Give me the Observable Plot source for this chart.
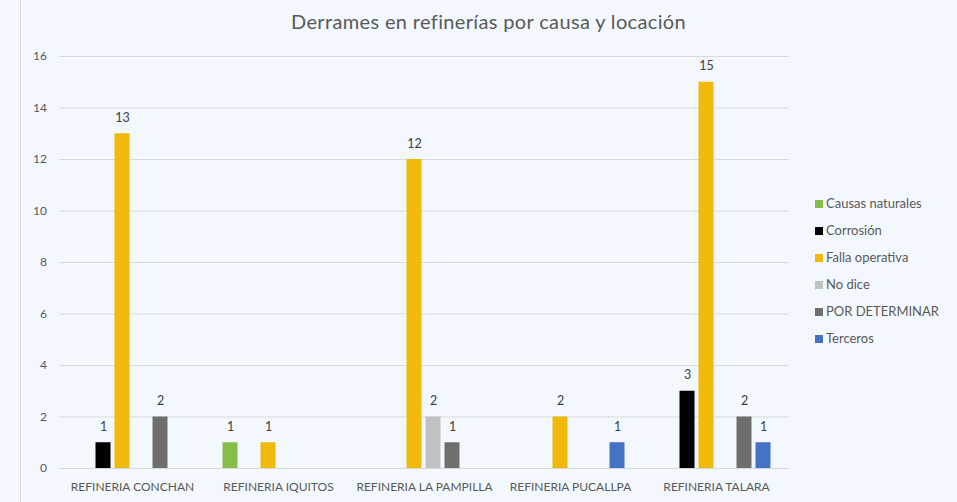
<!DOCTYPE html>
<html>
<head>
<meta charset="utf-8">
<script src="https://cdn.jsdelivr.net/npm/d3@7"></script>
<script src="https://cdn.jsdelivr.net/npm/@observablehq/plot@0.6"></script>
<style>
  html, body { margin: 0; padding: 0; background: #F3F8FE; }
  #wrap { position: relative; width: 957px; height: 502px; overflow: hidden; font-family: Lato, "Open Sans", sans-serif; color: #595959; }
  #vline { position: absolute; left: 20px; top: 0; width: 1px; height: 502px; background: #D9D9D9; }
  #title { position: absolute; left: 10px; top: 9px; width: 957px; text-align: center; font-size: 20px; letter-spacing: 0.35px; color: #595959; }
  #chart { position: absolute; left: 0; top: 0; }
  #legend { position: absolute; left: 815px; top: 194px; font-size: 13px; }
  .item { height: 27.1px; display: flex; align-items: flex-start; line-height: 19px; }
  .sw { width: 8px; height: 8px; margin-top: 5.5px; margin-right: 3px; flex: none; }
</style>
</head>
<body>
<div id="wrap">
  <div id="vline"></div>
  <div id="chart"></div>
  <div id="title">Derrames en refinerías por causa y locación</div>
  <div id="legend"></div>
</div>
<script>
const categories = ["REFINERIA CONCHAN", "REFINERIA IQUITOS", "REFINERIA LA PAMPILLA", "REFINERIA PUCALLPA", "REFINERIA TALARA"];
const series = ["Causas naturales", "Corrosión", "Falla operativa", "No dice", "POR DETERMINAR", "Terceros"];
const colors = ["#86BC4A", "#000000", "#F0B90C", "#BFC1C3", "#6E6E6E", "#4472C4"];
// values per category, in series order (null = no bar)
const conchan   = [null, 1, 13, null, 2, null];
const iquitos   = [1, null, 1, null, null, null];
const pampilla  = [null, null, 12, 2, 1, null];
const pucallpa  = [null, null, 2, null, null, 1];
const talara    = [null, 3, 15, null, 2, 1];
const yTicks = [0, 2, 4, 6, 8, 10, 12, 14, 16];

const rows = [conchan, iquitos, pampilla, pucallpa, talara];
const data = [];
categories.forEach((c, i) => rows[i].forEach((v, j) => {
  if (v != null) data.push({cat: c, serie: series[j], value: v});
}));

const chart = Plot.plot({
  width: 957,
  height: 502,
  marginTop: 56,
  marginBottom: 34,
  marginLeft: 57.5,
  marginRight: 166,
  style: {background: "transparent", fontFamily: "Lato, 'Open Sans', sans-serif", fontSize: "12px", color: "#595959"},
  fx: {domain: categories, paddingInner: 0.2046, paddingOuter: 0.1023, label: null},
  x: {domain: series, paddingInner: 0.19, paddingOuter: 0.095, axis: null},
  y: {domain: [0, 16]},
  color: {domain: series, range: colors},
  marks: [
    Plot.ruleY(yTicks, {stroke: "#D9D9D9", strokeWidth: 1, insetLeft: -15, insetRight: -15}),
    Plot.axisY(yTicks, {tickSize: 0, tickPadding: 27.5, label: null, fill: "#595959", fontSize: 12}),
    Plot.axisFx({anchor: "bottom", tickSize: 0, tickPadding: 14, label: null, fill: "#595959", fontSize: 12}),
    Plot.barY(data, {fx: "cat", x: "serie", y: "value", fill: "serie"}),
    Plot.text(data, {fx: "cat", x: "serie", y: "value", text: d => String(d.value), dy: -16, fill: "#404040", fontSize: 12.5})
  ]
});
document.getElementById("chart").appendChild(chart);

const legend = document.getElementById("legend");
series.forEach((s, i) => {
  const item = document.createElement("div");
  item.className = "item";
  const sw = document.createElement("span");
  sw.className = "sw";
  sw.style.background = colors[i];
  const t = document.createElement("span");
  t.textContent = s;
  item.appendChild(sw);
  item.appendChild(t);
  legend.appendChild(item);
});
</script>
</body>
</html>
